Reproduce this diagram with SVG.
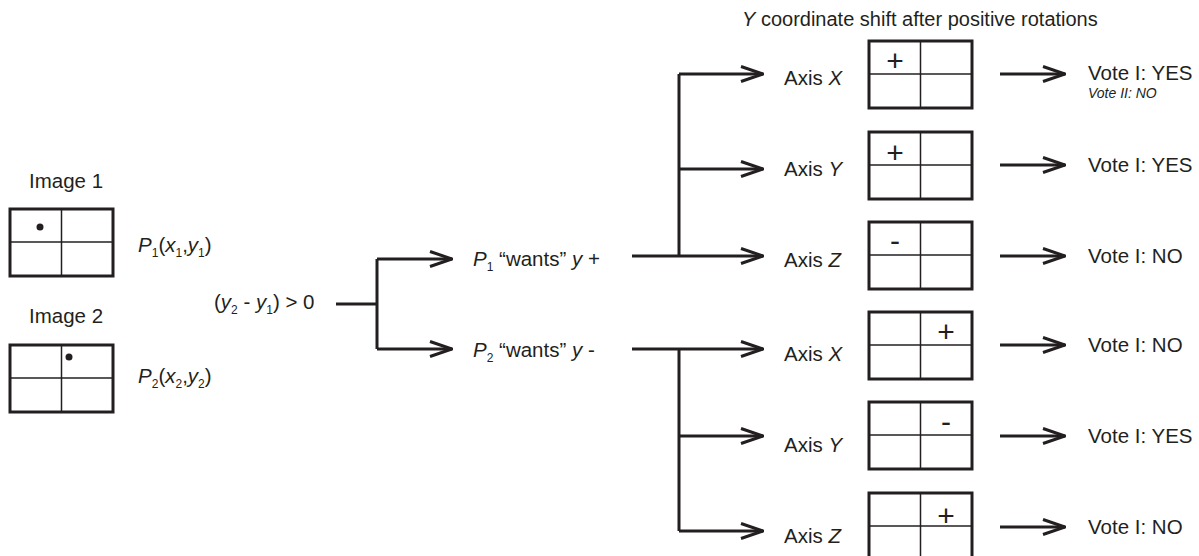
<svg xmlns="http://www.w3.org/2000/svg" width="1199" height="556" viewBox="0 0 1199 556">
  <defs>
    <style>
      text { font-family: "Liberation Sans", Arial, sans-serif; fill: #231f20; font-size: 20.5px; }
      .it { font-style: italic; }
      .sub { font-size: 12px; }
      .title { font-size: 20px; }
      .sign { font-size: 30px; text-anchor: middle; }
      .note { font-size: 14px; font-style: italic; }
      .frame { fill: #fff; stroke: #231f20; stroke-width: 3; }
      .grid { stroke: #231f20; stroke-width: 1.5; fill: none; }
      .wire { stroke: #231f20; stroke-width: 3; fill: none; }
      .dot { fill: #231f20; }
    </style>
    <marker id="head" markerUnits="userSpaceOnUse" viewBox="0 0 24 18" refX="23" refY="9" markerWidth="24" markerHeight="18" orient="auto">
      <path d="M1,1.5 L23,9 L1,16.5" fill="none" stroke="#231f20" stroke-width="3"/>
    </marker>
    <!-- 2x2 cell grid used for every image box -->
    <g id="cells">
      <rect class="frame" x="0" y="0" width="103" height="67"/>
      <line class="grid" x1="51.5" y1="0" x2="51.5" y2="67"/>
      <line class="grid" x1="0" y1="33" x2="103" y2="33"/>
    </g>
  </defs>

  <!-- input images -->
  <g id="image1">
    <text x="29" y="188">Image 1</text>
    <use href="#cells" transform="translate(10 209)"/>
    <circle class="dot" cx="40" cy="227" r="3.5"/>
    <text x="138" y="252"><tspan class="it">P</tspan><tspan class="sub" dy="5">1</tspan><tspan dy="-5">(</tspan><tspan class="it">x</tspan><tspan class="sub" dy="5">1</tspan><tspan dy="-5">,</tspan><tspan class="it">y</tspan><tspan class="sub" dy="5">1</tspan><tspan dy="-5">)</tspan></text>
  </g>
  <g id="image2">
    <text x="29" y="323">Image 2</text>
    <use href="#cells" transform="translate(10 345)"/>
    <circle class="dot" cx="69" cy="357" r="3.5"/>
    <text x="138" y="383"><tspan class="it">P</tspan><tspan class="sub" dy="5">2</tspan><tspan dy="-5">(</tspan><tspan class="it">x</tspan><tspan class="sub" dy="5">2</tspan><tspan dy="-5">,</tspan><tspan class="it">y</tspan><tspan class="sub" dy="5">2</tspan><tspan dy="-5">)</tspan></text>
  </g>

  <g id="condition">
    <text x="214" y="309">(<tspan class="it">y</tspan><tspan class="sub" dy="5">2</tspan><tspan dy="-5"> - </tspan><tspan class="it">y</tspan><tspan class="sub" dy="5">1</tspan><tspan dy="-5">) &gt; 0</tspan></text>
  </g>

  <g id="p1-wants">
    <text x="473" y="266"><tspan class="it">P</tspan><tspan class="sub" dy="5">1</tspan><tspan dy="-5"> “wants” </tspan><tspan class="it">y</tspan> +</text>
  </g>
  <g id="p2-wants">
    <text x="473" y="357"><tspan class="it">P</tspan><tspan class="sub" dy="5">2</tspan><tspan dy="-5"> “wants” </tspan><tspan class="it">y</tspan> -</text>
  </g>

  <g id="header">
    <text class="title" x="742" y="26"><tspan class="it">Y</tspan> coordinate shift after positive rotations</text>
  </g>

  <!-- rotation cases -->
  <g id="case1">
    <text x="784" y="85">Axis <tspan class="it">X</tspan></text>
    <use href="#cells" transform="translate(869 41)"/>
    <text class="sign" x="895" y="71">+</text>
    <text x="1088" y="80">Vote I: YES</text>
    <text class="note" x="1088" y="98">Vote II: NO</text>
  </g>
  <g id="case2">
    <text x="784" y="176">Axis <tspan class="it">Y</tspan></text>
    <use href="#cells" transform="translate(869 132)"/>
    <text class="sign" x="895" y="163">+</text>
    <text x="1088" y="172">Vote I: YES</text>
  </g>
  <g id="case3">
    <text x="784" y="267">Axis <tspan class="it">Z</tspan></text>
    <use href="#cells" transform="translate(869 222)"/>
    <text class="sign" x="895" y="251">-</text>
    <text x="1088" y="263">Vote I: NO</text>
  </g>
  <g id="case4">
    <text x="784" y="361">Axis <tspan class="it">X</tspan></text>
    <use href="#cells" transform="translate(869 312)"/>
    <text class="sign" x="946" y="342">+</text>
    <text x="1088" y="352">Vote I: NO</text>
  </g>
  <g id="case5">
    <text x="784" y="452">Axis <tspan class="it">Y</tspan></text>
    <use href="#cells" transform="translate(869 402)"/>
    <text class="sign" x="946" y="432">-</text>
    <text x="1088" y="443">Vote I: YES</text>
  </g>
  <g id="case6">
    <text x="784" y="543">Axis <tspan class="it">Z</tspan></text>
    <use href="#cells" transform="translate(869 493)"/>
    <text class="sign" x="946" y="526">+</text>
    <text x="1088" y="534">Vote I: NO</text>
  </g>

  <g id="connectors">
    <!-- condition split -->
    <path class="wire" d="M336,304 H377"/>
    <path class="wire" d="M377,259 V349"/>
    <path class="wire" d="M377,259 H452" marker-end="url(#head)"/>
    <path class="wire" d="M377,349 H452" marker-end="url(#head)"/>
    <!-- P1 branch -->
    <path class="wire" d="M632,256 H763" marker-end="url(#head)"/>
    <path class="wire" d="M679,74 V256"/>
    <path class="wire" d="M679,74 H763" marker-end="url(#head)"/>
    <path class="wire" d="M679,169 H763" marker-end="url(#head)"/>
    <!-- P2 branch -->
    <path class="wire" d="M632,349 H763" marker-end="url(#head)"/>
    <path class="wire" d="M679,349 V531"/>
    <path class="wire" d="M679,436 H763" marker-end="url(#head)"/>
    <path class="wire" d="M679,531 H763" marker-end="url(#head)"/>
    <!-- votes -->
    <path class="wire" d="M1000,74 H1065" marker-end="url(#head)"/>
    <path class="wire" d="M1000,165 H1065" marker-end="url(#head)"/>
    <path class="wire" d="M1000,256 H1065" marker-end="url(#head)"/>
    <path class="wire" d="M1000,345 H1065" marker-end="url(#head)"/>
    <path class="wire" d="M1000,436 H1065" marker-end="url(#head)"/>
    <path class="wire" d="M1000,527 H1065" marker-end="url(#head)"/>
  </g>
</svg>
